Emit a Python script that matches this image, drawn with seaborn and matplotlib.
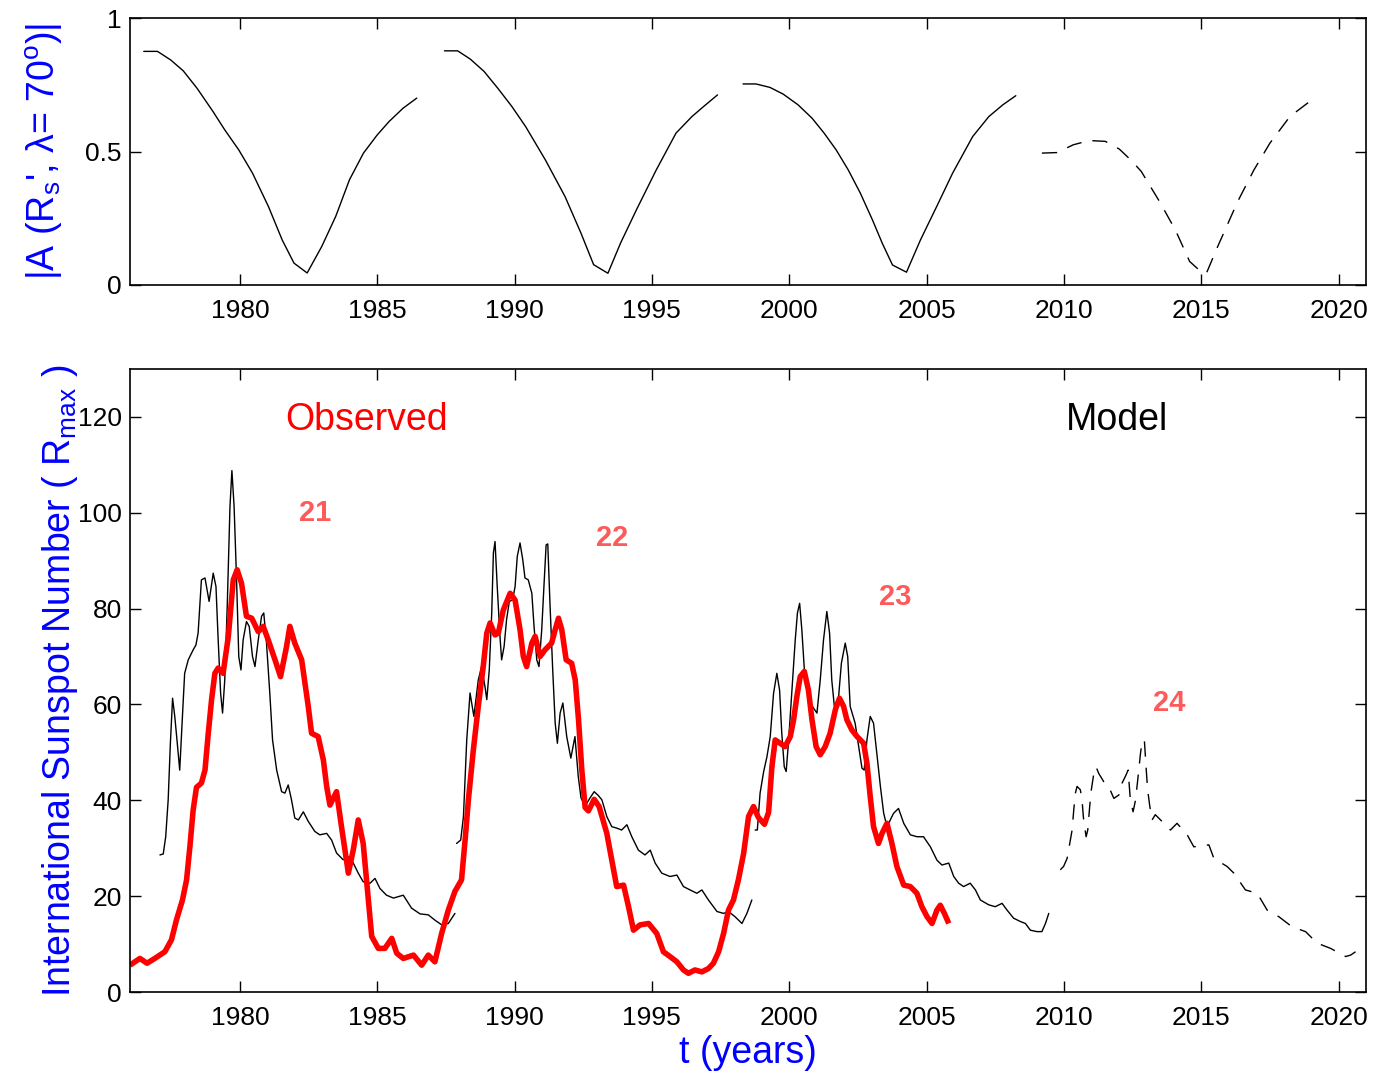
import numpy as np
import pandas as pd
import matplotlib
matplotlib.use('Agg')
import matplotlib.pyplot as plt
import seaborn as sns
from matplotlib.ticker import FormatStrFormatter

# ---- top panel: |A(R_s, lambda=70)| per cycle, last cycle dashed (prediction)
amp_years_1 = [1976.50, 1977.00, 1977.48, 1977.94, 1978.44, 1979.02, 1979.45, 1979.96, 1980.46, 1981.04,
               1981.54, 1981.97, 1982.45, 1982.98, 1983.49, 1983.99, 1984.50, 1985.00, 1985.43, 1985.94, 1986.44]
amp_vals_1 = [0.875, 0.875, 0.843, 0.802, 0.737, 0.650, 0.581, 0.506, 0.419, 0.294,
              0.169, 0.082, 0.045, 0.144, 0.257, 0.394, 0.494, 0.562, 0.612, 0.662, 0.700]

amp_years_2 = [1987.45, 1987.93, 1988.39, 1988.89, 1989.39, 1989.90, 1990.40, 1991.12, 1991.84, 1992.42,
               1992.88, 1993.40, 1993.86, 1994.44, 1995.16, 1995.88, 1996.46, 1996.89, 1997.39]
amp_vals_2 = [0.877, 0.877, 0.846, 0.800, 0.737, 0.669, 0.594, 0.469, 0.331, 0.194,
              0.076, 0.044, 0.157, 0.282, 0.431, 0.569, 0.631, 0.669, 0.712]

amp_years_3 = [1998.32, 1998.79, 1999.30, 1999.78, 2000.32, 2000.83, 2001.27, 2001.71, 2002.15, 2002.59,
               2003.03, 2003.39, 2003.76, 2004.27, 2004.78, 2005.37, 2005.95, 2006.68, 2007.27, 2007.78, 2008.25]
amp_vals_3 = [0.753, 0.753, 0.740, 0.715, 0.675, 0.625, 0.569, 0.506, 0.431, 0.344,
              0.244, 0.156, 0.075, 0.048, 0.169, 0.294, 0.419, 0.556, 0.631, 0.675, 0.709]

amp_years_4 = [2009.20, 2009.75, 2010.34, 2010.92, 2011.51, 2012.02, 2012.46, 2012.82, 2013.48, 2014.06,
               2014.58, 2014.99, 2015.19, 2015.60, 2016.33, 2016.92, 2017.50, 2018.23, 2019.15]
amp_vals_4 = [0.494, 0.496, 0.525, 0.541, 0.538, 0.509, 0.466, 0.425, 0.313, 0.206,
              0.088, 0.050, 0.044, 0.144, 0.313, 0.431, 0.531, 0.631, 0.703]

# ---- bottom panel: observed smoothed sunspot number (red)
obs_years = [1976.00, 1976.36, 1976.62, 1976.90, 1977.27, 1977.51, 1977.69, 1977.91, 1978.06, 1978.18,
             1978.30, 1978.42, 1978.60, 1978.73, 1978.85, 1978.97, 1979.09, 1979.21, 1979.39, 1979.58,
             1979.76, 1979.90, 1980.06, 1980.24, 1980.43, 1980.67, 1980.85, 1981.03, 1981.28, 1981.48,
             1981.70, 1981.82, 1982.00, 1982.25, 1982.49, 1982.61, 1982.85, 1983.04, 1983.16, 1983.28,
             1983.52, 1983.70, 1983.95, 1984.13, 1984.31, 1984.49, 1984.68, 1984.80, 1985.04, 1985.28,
             1985.53, 1985.71, 1985.95, 1986.32, 1986.62, 1986.86, 1987.10, 1987.35, 1987.59, 1987.83,
             1988.07, 1988.20, 1988.32, 1988.50, 1988.68, 1988.86, 1988.99, 1989.11, 1989.29, 1989.41,
             1989.59, 1989.84, 1990.02, 1990.20, 1990.32, 1990.44, 1990.63, 1990.75, 1990.93, 1991.11,
             1991.35, 1991.48, 1991.60, 1991.72, 1991.88, 1992.08, 1992.21, 1992.33, 1992.45, 1992.57,
             1992.69, 1992.90, 1993.08, 1993.36, 1993.54, 1993.72, 1993.97, 1994.15, 1994.33, 1994.57,
             1994.88, 1995.18, 1995.42, 1995.66, 1995.91, 1996.15, 1996.33, 1996.57, 1996.82, 1997.06,
             1997.24, 1997.43, 1997.61, 1997.79, 1997.97, 1998.15, 1998.34, 1998.52, 1998.70, 1998.88,
             1999.10, 1999.25, 1999.37, 1999.49, 1999.67, 1999.85, 2000.04, 2000.16, 2000.28, 2000.40,
             2000.55, 2000.70, 2000.83, 2000.98, 2001.13, 2001.31, 2001.49, 2001.68, 2001.83, 2001.98,
             2002.10, 2002.28, 2002.47, 2002.71, 2002.83, 2002.95, 2003.07, 2003.25, 2003.38, 2003.56,
             2003.74, 2003.92, 2004.17, 2004.41, 2004.65, 2004.83, 2005.02, 2005.20, 2005.38, 2005.50,
             2005.65, 2005.81]
obs_vals = [5.6, 7.0, 6.0, 7.0, 8.4, 10.9, 15.0, 19.2, 23.4, 30.3,
            38.0, 42.7, 43.6, 46.3, 54.0, 61.0, 66.5, 67.6, 66.5, 74.2,
            86.0, 88.1, 85.3, 78.4, 78.0, 75.2, 76.3, 73.5, 69.3, 65.8,
            72.1, 76.3, 72.8, 69.3, 59.6, 54.0, 53.3, 48.4, 42.9, 39.0,
            41.8, 34.5, 24.8, 29.7, 35.9, 31.0, 19.2, 11.6, 9.1, 9.1,
            11.2, 8.1, 7.0, 7.7, 5.6, 7.7, 6.3, 12.3, 17.1, 21.0,
            23.4, 31.7, 40.1, 50.5, 59.6, 67.9, 74.9, 77.0, 74.5, 74.9,
            79.7, 83.2, 81.8, 75.6, 70.0, 67.9, 72.8, 74.2, 70.0, 71.4,
            72.8, 75.6, 78.0, 75.6, 69.3, 68.6, 65.1, 56.8, 46.3, 38.5,
            37.8, 40.2, 38.7, 33.1, 27.6, 22.0, 22.3, 17.8, 12.9, 14.0,
            14.3, 12.2, 8.4, 7.4, 6.3, 4.6, 3.9, 4.6, 4.2, 4.9,
            6.0, 8.4, 12.2, 17.1, 19.2, 23.4, 28.9, 36.6, 38.7, 36.4,
            35.0, 37.5, 47.0, 52.6, 51.9, 51.2, 53.3, 56.8, 61.7, 65.8,
            66.9, 63.0, 56.8, 51.2, 49.5, 51.2, 54.0, 58.9, 61.3, 59.6,
            56.8, 54.7, 53.3, 51.9, 47.7, 40.8, 34.5, 31.0, 33.1, 35.2,
            31.0, 26.2, 22.3, 22.0, 20.6, 17.8, 15.7, 14.3, 17.1, 18.1,
            16.4, 14.3]

# ---- bottom panel: model curves (black), cycle 24 dashed
model_years_a = [1977.09, 1977.21, 1977.30, 1977.39, 1977.47, 1977.55, 1977.63, 1977.72, 1977.81, 1977.94,
                 1977.99, 1978.12, 1978.30, 1978.40, 1978.48, 1978.60, 1978.73, 1978.88, 1979.03, 1979.13,
                 1979.21, 1979.30, 1979.37, 1979.45, 1979.54, 1979.64, 1979.71, 1979.79, 1979.88, 1979.96,
                 1980.04, 1980.12, 1980.24, 1980.34, 1980.46, 1980.55, 1980.67, 1980.79, 1980.87, 1980.97,
                 1981.09, 1981.19, 1981.34, 1981.52, 1981.64, 1981.76, 1981.88, 1982.00, 1982.13, 1982.31,
                 1982.49, 1982.73, 1982.91, 1983.16, 1983.34, 1983.52, 1983.76, 1984.01, 1984.31, 1984.49,
                 1984.74, 1984.92, 1985.10, 1985.34, 1985.59, 1985.77, 1985.95, 1986.25, 1986.56, 1986.86,
                 1987.10, 1987.35, 1987.59, 1987.83]
model_vals_a = [28.6, 28.8, 32.4, 40.1, 51.9, 61.3, 57.5, 52.0, 46.3, 61.0,
                66.5, 69.3, 71.4, 72.4, 74.9, 86.0, 86.4, 81.5, 87.4, 84.6,
                73.5, 62.3, 58.2, 65.1, 80.5, 101.3, 108.8, 101.3, 86.0, 70.0,
                67.2, 73.5, 77.3, 76.3, 70.0, 67.9, 73.5, 78.4, 79.1, 72.8,
                62.3, 52.6, 46.3, 41.8, 41.5, 43.2, 40.1, 36.3, 35.9, 37.6,
                35.6, 33.5, 32.8, 33.1, 31.7, 29.0, 27.6, 28.3, 24.8, 23.0,
                22.7, 23.7, 21.6, 20.2, 19.6, 19.9, 20.2, 17.5, 16.3, 16.1,
                15.0, 14.0, 14.3, 16.4]

model_years_b = [1987.89, 1988.04, 1988.14, 1988.26, 1988.38, 1988.52, 1988.68, 1988.80, 1988.93, 1988.99,
                 1989.08, 1989.17, 1989.23, 1989.29, 1989.37, 1989.47, 1989.53, 1989.62, 1989.71, 1989.81,
                 1989.93, 1990.02, 1990.10, 1990.20, 1990.30, 1990.38, 1990.50, 1990.63, 1990.71, 1990.81,
                 1990.89, 1990.99, 1991.07, 1991.15, 1991.21, 1991.29, 1991.39, 1991.48, 1991.56, 1991.66,
                 1991.76, 1991.90, 1992.05, 1992.20, 1992.32, 1992.42, 1992.57, 1992.75, 1992.90, 1993.05,
                 1993.18, 1993.36, 1993.54, 1993.72, 1993.90, 1994.09, 1994.27, 1994.51, 1994.75, 1994.94,
                 1995.12, 1995.36, 1995.66, 1995.91, 1996.15, 1996.39, 1996.64, 1996.82, 1997.06, 1997.37,
                 1997.61, 1997.79, 1998.03, 1998.28, 1998.46, 1998.64]
model_vals_b = [31.0, 31.7, 36.6, 52.6, 62.4, 57.5, 65.1, 67.9, 63.5, 61.0,
                67.2, 79.1, 91.6, 94.0, 84.6, 74.2, 69.3, 72.1, 77.7, 81.5,
                81.8, 84.6, 90.9, 93.7, 90.2, 86.4, 86.0, 83.2, 76.3, 69.3,
                67.9, 75.6, 84.6, 93.3, 93.5, 81.1, 67.2, 56.1, 51.9, 58.2,
                60.3, 53.3, 48.8, 53.3, 45.0, 40.5, 38.8, 40.5, 41.8, 41.0,
                40.1, 36.6, 34.5, 34.2, 33.8, 34.9, 32.4, 29.6, 28.6, 29.6,
                26.9, 24.8, 24.1, 24.4, 22.0, 21.3, 20.6, 21.3, 19.2, 16.8,
                16.4, 16.8, 15.7, 14.3, 16.4, 19.2]

model_years_c = [1998.76, 1998.84, 1998.94, 1999.07, 1999.19, 1999.31, 1999.43, 1999.55, 1999.65, 1999.73,
                 1999.82, 1999.89, 1999.98, 2000.10, 2000.22, 2000.30, 2000.38, 2000.46, 2000.56, 2000.70,
                 2000.89, 2001.01, 2001.13, 2001.25, 2001.37, 2001.47, 2001.55, 2001.68, 2001.80, 2001.90,
                 2002.04, 2002.13, 2002.22, 2002.40, 2002.53, 2002.65, 2002.73, 2002.83, 2002.95, 2003.07,
                 2003.19, 2003.32, 2003.44, 2003.56, 2003.80, 2003.98, 2004.17, 2004.41, 2004.65, 2004.89,
                 2005.14, 2005.38, 2005.56, 2005.81, 2005.99, 2006.17, 2006.35, 2006.59, 2006.78, 2006.96,
                 2007.26, 2007.50, 2007.75, 2007.93, 2008.17, 2008.42, 2008.60, 2008.78, 2009.02, 2009.20,
                 2009.33, 2009.45]
model_vals_c = [33.8, 33.8, 41.5, 46.0, 49.1, 53.3, 62.3, 66.5, 63.0, 54.0,
                47.0, 46.0, 52.6, 63.0, 73.5, 79.1, 81.1, 75.6, 66.5, 61.0,
                59.2, 58.2, 65.1, 73.5, 79.4, 74.9, 65.1, 57.5, 61.7, 68.6,
                72.8, 70.0, 59.6, 56.1, 51.2, 46.7, 46.3, 52.6, 57.5, 56.1,
                49.8, 42.9, 37.3, 34.5, 37.3, 38.3, 35.2, 32.8, 32.4, 32.4,
                30.3, 27.5, 26.5, 26.9, 24.1, 22.7, 22.0, 22.7, 21.3, 19.2,
                18.2, 17.8, 18.5, 17.1, 15.4, 14.7, 14.3, 12.9, 12.6, 12.6,
                14.3, 16.4]

model_years_d = [2009.87, 2009.99, 2010.12, 2010.30, 2010.36, 2010.42, 2010.48, 2010.60, 2010.66, 2010.72,
                 2010.81, 2010.87, 2010.94, 2011.00, 2011.09, 2011.17, 2011.27, 2011.45, 2011.63, 2011.82,
                 2012.00, 2012.12, 2012.24, 2012.34, 2012.42, 2012.52, 2012.61, 2012.69, 2012.79, 2012.85,
                 2012.93, 2013.00, 2013.05, 2013.13, 2013.21, 2013.33, 2013.52, 2013.88, 2014.12, 2014.49,
                 2014.73, 2015.28, 2015.46, 2015.94, 2016.19, 2016.61, 2017.04, 2017.40, 2017.83, 2018.31,
                 2018.80, 2019.22, 2019.71, 2020.26, 2020.44, 2020.62]
model_vals_d = [25.5, 26.2, 27.9, 33.8, 38.0, 41.5, 42.9, 42.2, 40.1, 35.9,
                32.4, 33.8, 38.7, 42.2, 45.6, 47.0, 45.6, 43.9, 42.9, 40.4,
                41.1, 43.6, 45.0, 46.3, 40.1, 37.6, 40.1, 44.3, 49.8, 52.3,
                52.6, 46.3, 42.2, 38.7, 35.9, 37.0, 35.9, 33.8, 35.2, 32.8,
                30.3, 30.7, 27.9, 26.2, 24.8, 21.3, 20.6, 17.1, 15.7, 13.6,
                12.6, 10.2, 9.1, 7.4, 7.7, 8.4]

cycle_labels = ['21', '22', '23', '24']
cycle_label_years = [1982.73, 1993.55, 2003.86, 2013.84]
cycle_label_vals = [100.0, 94.8, 82.5, 60.3]

year_ticks = [1980, 1985, 1990, 1995, 2000, 2005, 2010, 2015, 2020]

sns.set_style('ticks', {'xtick.direction': 'in', 'ytick.direction': 'in'})
plt.rcParams['font.family'] = ['Liberation Sans', 'DejaVu Sans']
plt.rcParams['mathtext.fontset'] = 'custom'
plt.rcParams['mathtext.rm'] = 'Liberation Sans'
plt.rcParams['mathtext.it'] = 'Liberation Sans:italic'
plt.rcParams['mathtext.bf'] = 'Liberation Sans:bold'

W, H = 1379, 1077
fig = plt.figure(figsize=(W / 100, H / 100), dpi=100)
ax_top = fig.add_axes([130 / W, 1 - 285 / H, 1236 / W, 267 / H])
ax_bot = fig.add_axes([130 / W, 1 - 992 / H, 1236 / W, 623 / H])

dash = (0, (11, 8))


def draw(ax, years, vals, **kws):
    sns.lineplot(x=years, y=vals, ax=ax, sort=False, estimator=None, errorbar=None, **kws)


# top panel
draw(ax_top, amp_years_1, amp_vals_1, color='black', linewidth=1.0)
draw(ax_top, amp_years_2, amp_vals_2, color='black', linewidth=1.0)
draw(ax_top, amp_years_3, amp_vals_3, color='black', linewidth=1.0)
draw(ax_top, amp_years_4, amp_vals_4, color='black', linewidth=1.0, linestyle=dash)

# bottom panel
draw(ax_bot, model_years_a, model_vals_a, color='black', linewidth=1.0)
draw(ax_bot, model_years_b, model_vals_b, color='black', linewidth=1.0)
draw(ax_bot, model_years_c, model_vals_c, color='black', linewidth=1.0)
draw(ax_bot, model_years_d, model_vals_d, color='black', linewidth=1.0, linestyle=dash)
draw(ax_bot, obs_years, obs_vals, color='#ff0000', linewidth=4.0,
     solid_joinstyle='round', solid_capstyle='butt')

for lab, x, y in zip(cycle_labels, cycle_label_years, cycle_label_vals):
    ax_bot.text(x, y, lab, color='#ff5a5a', fontsize=21, fontweight='bold',
                ha='center', va='center')
ax_bot.text(1984.6, 119.4, 'Observed', color='#ff0000', fontsize=27, ha='center', va='center')
ax_bot.text(2011.95, 119.4, 'Model', color='black', fontsize=27, ha='center', va='center')

for ax in (ax_top, ax_bot):
    ax.set_xlim(1976, 2021)
    ax.set_xticks(year_ticks)
    ax.tick_params(axis='both', which='both', direction='in', length=8, width=1.0,
                   labelsize=19, top=True, right=True, pad=6, colors='black')
    ax.tick_params(axis='x', pad=10)
    for sp in ax.spines.values():
        sp.set_visible(True)
        sp.set_linewidth(1.2)
        sp.set_color('black')

ax_top.set_ylim(0, 1)
ax_top.set_yticks([0, 0.5, 1])
ax_top.yaxis.set_major_formatter(FormatStrFormatter('%g'))
ax_bot.set_ylim(0, 130)
ax_bot.set_yticks([0, 20, 40, 60, 80, 100, 120])

ax_top.set_ylabel("|A (R$_\\mathrm{s}$', λ= 70$^\\mathrm{o}$)|", color='blue', fontsize=27)
ax_bot.set_ylabel('International Sunspot Number ( R$_\\mathrm{max}$ )', color='blue', fontsize=27)
ax_bot.set_xlabel('t (years)', color='blue', fontsize=27)

for ax, xpix in ((ax_top, 44), (ax_bot, 60)):
    lab = ax.yaxis.label
    lab.set_rotation_mode('default')
    lab.set_ha('center')
    lab.set_va('center')
    ax.yaxis.set_label_coords((xpix - 130) / 1236, 0.5)
xl = ax_bot.xaxis.label
xl.set_va('center')
ax_bot.xaxis.set_label_coords((748 - 130) / 1236, (992 - 1053) / 623)

fig.savefig('out.png', dpi=100)
